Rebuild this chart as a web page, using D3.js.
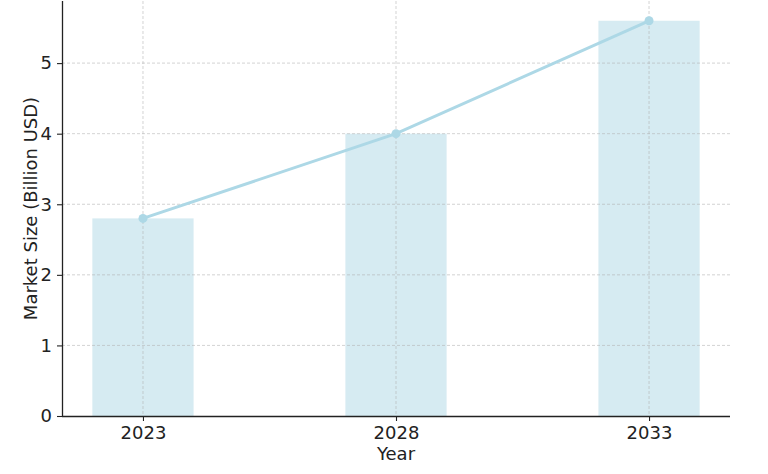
<!DOCTYPE html>
<html lang="en">
<head>
<meta charset="utf-8">
<title>Market Size</title>
<script src="https://cdn.jsdelivr.net/npm/d3@7"></script>
<style>
  body { margin: 0; background: white; }
  svg { display: block; font-family: "DejaVu Sans", sans-serif; }
</style>
</head>
<body>
<script>
// data
var years = ["2023", "2028", "2033"];
var marketSize = [2.8, 4.0, 5.6];
var yTicks = [0, 1, 2, 3, 4, 5];

var width = 768, height = 474;
var margin = {top: 1, right: 38, bottom: 58, left: 62};
var w = width - margin.left - margin.right;
var h = height - margin.top - margin.bottom;

var svg = d3.select("body").append("svg")
  .attr("width", width)
  .attr("height", height);

var g = svg.append("g")
  .attr("transform", "translate(" + margin.left + "," + margin.top + ")");

// category index scale, matplotlib-like margins
var x = d3.scaleLinear().domain([-0.32, 2.32]).range([0, w]);
var y = d3.scaleLinear().domain([0, 5.88]).range([h, 0]);
var barW = x(0.4) - x(0);

// bars
g.selectAll("rect.bar")
  .data(marketSize)
  .enter()
  .append("rect")
  .attr("class", "bar")
  .attr("x", function(d, i) { return x(i) - barW / 2; })
  .attr("y", function(d) { return y(d); })
  .attr("width", barW)
  .attr("height", function(d) { return h - y(d); })
  .attr("fill", "#add8e6")
  .attr("fill-opacity", 0.5);

// grid
g.selectAll("line.hgrid")
  .data(yTicks.slice(1))
  .enter()
  .append("line")
  .attr("x1", 0).attr("x2", w)
  .attr("y1", function(d) { return y(d); })
  .attr("y2", function(d) { return y(d); })
  .attr("stroke", "#b0b0b0")
  .attr("stroke-opacity", 0.7)
  .attr("stroke-width", 0.8)
  .attr("stroke-dasharray", "3,2");

g.selectAll("line.vgrid")
  .data(years)
  .enter()
  .append("line")
  .attr("y1", 0).attr("y2", h)
  .attr("x1", function(d, i) { return x(i); })
  .attr("x2", function(d, i) { return x(i); })
  .attr("stroke", "#b0b0b0")
  .attr("stroke-opacity", 0.7)
  .attr("stroke-width", 0.8)
  .attr("stroke-dasharray", "3,2");

// line
var line = d3.line()
  .x(function(d, i) { return x(i); })
  .y(function(d) { return y(d); });

g.append("path")
  .datum(marketSize)
  .attr("d", line)
  .attr("fill", "none")
  .attr("stroke", "#add8e6")
  .attr("stroke-width", 3);

g.selectAll("circle")
  .data(marketSize)
  .enter()
  .append("circle")
  .attr("cx", function(d, i) { return x(i); })
  .attr("cy", function(d) { return y(d); })
  .attr("r", 4.5)
  .attr("fill", "#add8e6");

// axes
var xAxis = d3.axisBottom(x)
  .tickValues([0, 1, 2])
  .tickFormat(function(d) { return years[d]; })
  .tickSize(5)
  .tickPadding(5);

var yAxis = d3.axisLeft(y)
  .tickValues(yTicks)
  .tickFormat(d3.format("d"))
  .tickSize(5)
  .tickPadding(5);

var xg = g.append("g")
  .attr("transform", "translate(0," + h + ")")
  .call(xAxis);
xg.select(".domain").attr("d", "M0,0.5H" + w).attr("stroke", "#222").attr("stroke-width", 1.3);

var yg = g.append("g").call(yAxis);
yg.select(".domain").attr("d", "M0.5," + h + "V0").attr("stroke", "#222").attr("stroke-width", 1.3);

xg.attr("font-size", null).attr("font-family", null);
yg.attr("font-size", null).attr("font-family", null);

svg.selectAll(".tick line").attr("stroke", "#222").attr("stroke-width", 1.1);
svg.selectAll(".tick text")
  .attr("fill", "#222")
  .style("font-size", "18px")
  .style("font-family", "DejaVu Sans, sans-serif");

// labels
g.append("text")
  .attr("x", w / 2)
  .attr("y", h + 44)
  .attr("text-anchor", "middle")
  .attr("fill", "#222")
  .style("font-size", "18px")
  .text("Year");

g.append("text")
  .attr("transform", "translate(-25," + (h / 2) + ") rotate(-90)")
  .attr("text-anchor", "middle")
  .attr("fill", "#222")
  .style("font-size", "18px")
  .text("Market Size (Billion USD)");
</script>
</body>
</html>
